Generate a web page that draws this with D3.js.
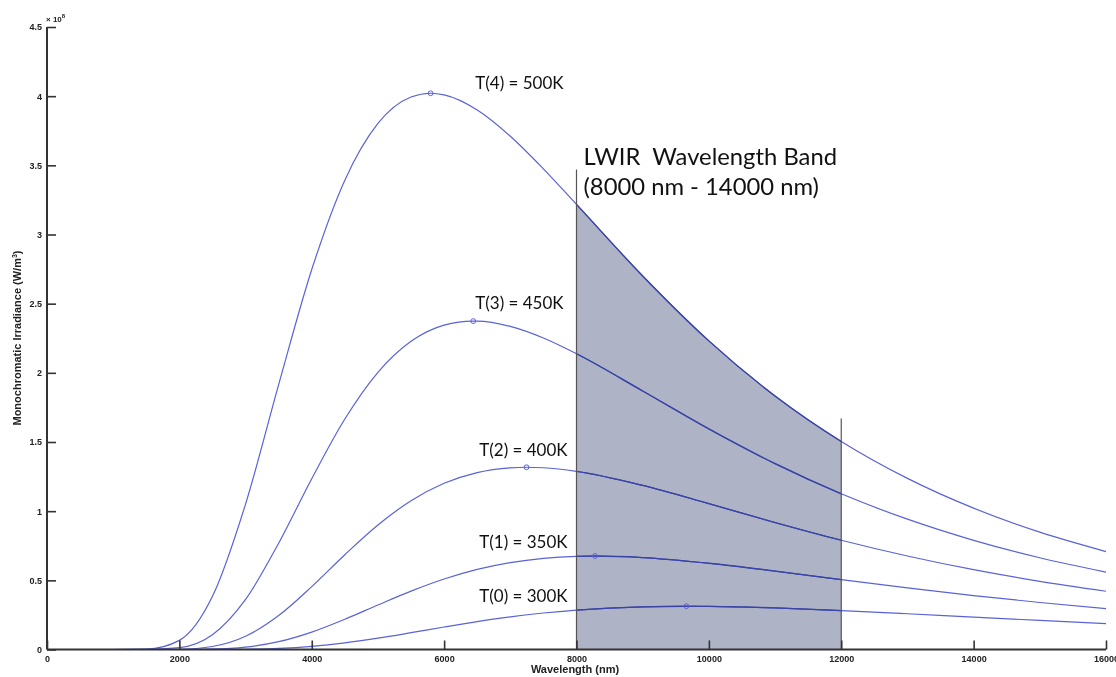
<!DOCTYPE html>
<html>
<head>
<meta charset="utf-8">
<script src="https://cdn.jsdelivr.net/npm/d3@7"></script>
<style>
  html, body { margin: 0; padding: 0; background: #ffffff; }
  svg { display: block; }
  .tick-label { font-family: "Liberation Sans", Arial, sans-serif; font-weight: bold; font-size: 9px; fill: #222; }
  .axis-title { font-family: "Liberation Sans", Arial, sans-serif; font-weight: bold; font-size: 11px; fill: #222; }
  .curve-label { font-family: Lato, "Open Sans", sans-serif; font-size: 17px; fill: #111; }
  .band-label { font-family: Lato, "Open Sans", sans-serif; font-size: 23.8px; fill: #111; white-space: pre; }
</style>
</head>
<body>
<svg id="chart" width="1116" height="677"></svg>
<script>
// Wavelength samples (nm)
const wavelengths = [0, 1000, 1500, 2000, 2500, 3000, 3500, 4000, 4500, 5000, 5500, 6000, 6500, 7000, 7500, 8000, 9000, 10000, 11000, 12000, 13000, 14000, 15000, 16000];

// Monochromatic irradiance, in units of 1e8 W/m^3
const irr300 = [0, 0, 0, 0, 0.0002, 0.0018, 0.008, 0.0227, 0.0477, 0.0818, 0.1214, 0.1626, 0.2015, 0.2358, 0.2638, 0.2852, 0.3088, 0.3117, 0.3007, 0.2815, 0.2583, 0.2339, 0.2100, 0.1875];
const irr350 = [0, 0, 0, 0.0001, 0.0028, 0.0172, 0.0565, 0.1258, 0.2187, 0.3219, 0.4221, 0.5096, 0.5789, 0.6285, 0.6594, 0.6738, 0.6647, 0.6236, 0.5669, 0.5055, 0.4455, 0.3898, 0.3399, 0.2960];
const irr400 = [0, 0, 0, 0.0018, 0.0216, 0.0956, 0.2452, 0.4544, 0.6853, 0.9000, 1.0755, 1.2017, 1.2792, 1.3136, 1.3137, 1.2875, 1.1862, 1.0543, 0.9179, 0.7900, 0.6760, 0.5770, 0.4927, 0.4213];
const irr450 = [0, 0, 0.0003, 0.0133, 0.1070, 0.3620, 0.7683, 1.2348, 1.6661, 2.0037, 2.2279, 2.3452, 2.3739, 2.3357, 2.2516, 2.1379, 1.8689, 1.5945, 1.3434, 1.1256, 0.9420, 0.7893, 0.6634, 0.5596];
const irr500 = [0, 0, 0.0023, 0.0660, 0.3843, 1.0513, 1.9152, 2.7466, 3.3930, 3.8032, 3.9938, 4.0090, 3.9000, 3.7105, 3.4748, 3.2175, 2.7003, 2.2311, 1.8322, 1.5037, 1.2369, 1.0216, 0.8481, 0.7080];

// Peak of each curve: [wavelength nm, irradiance]
const peak300 = [9660, 0.3127];
const peak350 = [8280, 0.6758];
const peak400 = [7245, 1.3176];
const peak450 = [6440, 2.3740];
const peak500 = [5796, 4.0210];

const seriesNames = ["T(0) = 300K", "T(1) = 350K", "T(2) = 400K", "T(3) = 450K", "T(4) = 500K"];
const seriesValues = [irr300, irr350, irr400, irr450, irr500];
const seriesPeaks = [peak300, peak350, peak400, peak450, peak500];

// Label anchor for each curve: [wavelength nm, irradiance]
const labelAnchors = [[6530, 0.343], [6530, 0.734], [6530, 1.40], [6470, 2.46], [6470, 4.052]];

// LWIR band: shaded between these wavelengths, edge line heights in irradiance units
const bandStart = 8000, bandEnd = 12000;
const bandEdgeTops = [3.47, 1.67];
const bandText = ["LWIR  Wavelength Band", "(8000 nm - 14000 nm)"];

const xTicks = [0, 2000, 4000, 6000, 8000, 10000, 12000, 14000, 16000];
const yTicks = [0, 0.5, 1, 1.5, 2, 2.5, 3, 3.5, 4, 4.5];

const svg = d3.select("#chart");
const x = d3.scaleLinear().domain([0, 16000]).range([47, 1106]);
const y = d3.scaleLinear().domain([0, 4.5]).range([649.5, 27]);

const lineColor = "#5a62d8";

const seriesData = seriesValues.map((vals, i) => {
  const pts = wavelengths.map((w, j) => [w, vals[j]]);
  pts.push(seriesPeaks[i]);
  pts.sort((a, b) => a[0] - b[0]);
  return pts;
});

const line = d3.line().x(d => x(d[0])).y(d => y(d[1])).curve(d3.curveMonotoneX);
const area = d3.area().x(d => x(d[0])).y0(y(0)).y1(d => y(d[1])).curve(d3.curveMonotoneX);

// clip to the LWIR band
svg.append("defs").append("clipPath").attr("id", "band-clip")
  .append("rect")
  .attr("x", x(bandStart)).attr("y", 0)
  .attr("width", x(bandEnd) - x(bandStart)).attr("height", y(0));

// curves
svg.append("g").selectAll("path.curve")
  .data(seriesData)
  .join("path")
  .attr("class", "curve")
  .attr("d", line)
  .attr("fill", "none")
  .attr("stroke", lineColor)
  .attr("stroke-width", 1.2);

// shaded band under the hottest curve
svg.append("path")
  .datum(seriesData[4])
  .attr("d", area)
  .attr("clip-path", "url(#band-clip)")
  .attr("fill", "#aeb4c6")
  .style("mix-blend-mode", "multiply");

// stronger curve stroke inside the band
svg.append("g").attr("clip-path", "url(#band-clip)").selectAll("path")
  .data(seriesData)
  .join("path")
  .attr("d", line)
  .attr("fill", "none")
  .attr("stroke", "#3a44a8")
  .attr("stroke-width", 1.3);

// band edge lines
svg.append("g").selectAll("line.edge")
  .data([bandStart, bandEnd])
  .join("line")
  .attr("x1", d => x(d)).attr("x2", d => x(d))
  .attr("y1", y(0))
  .attr("y2", (d, i) => y(bandEdgeTops[i]))
  .attr("stroke", "#555")
  .attr("stroke-width", 1.2);

// peak markers
svg.append("g").selectAll("circle")
  .data(seriesPeaks)
  .join("circle")
  .attr("cx", d => x(d[0]))
  .attr("cy", d => y(d[1]))
  .attr("r", 2.4)
  .attr("fill", "none")
  .attr("stroke", lineColor)
  .attr("stroke-width", 1);

// curve labels
svg.append("g").selectAll("text")
  .data(seriesNames)
  .join("text")
  .attr("class", "curve-label")
  .attr("x", (d, i) => x(labelAnchors[i][0]))
  .attr("y", (d, i) => y(labelAnchors[i][1]))
  .text(d => d);

// band caption
svg.append("g").selectAll("text")
  .data(bandText)
  .join("text")
  .attr("class", "band-label")
  .attr("xml:space", "preserve")
  .attr("x", x(bandStart) + 7)
  .attr("y", (d, i) => 165 + i * 30)
  .text(d => d);

// axes
const axisG = svg.append("g");
axisG.append("line")
  .attr("x1", x(0)).attr("x2", x(16000))
  .attr("y1", y(0)).attr("y2", y(0))
  .attr("stroke", "#333").attr("stroke-width", 2);
axisG.append("line")
  .attr("x1", x(0)).attr("x2", x(0))
  .attr("y1", y(0)).attr("y2", y(4.5))
  .attr("stroke", "#333").attr("stroke-width", 2);

const xAxis = d3.axisBottom(x).tickValues(xTicks).tickSizeInner(-9).tickSizeOuter(0).tickPadding(6)
  .tickFormat(d3.format("d"));
const gx = svg.append("g").attr("transform", `translate(0,${y(0)})`).call(xAxis);
gx.select(".domain").remove();
gx.selectAll(".tick line").attr("stroke", "#333").attr("stroke-width", 1.6);
gx.selectAll(".tick text").attr("class", "tick-label").attr("fill", null);

const yAxis = d3.axisLeft(y).tickValues(yTicks).tickSizeInner(-9).tickSizeOuter(0).tickPadding(5)
  .tickFormat(d3.format("~g"));
const gy = svg.append("g").attr("transform", `translate(${x(0)},0)`).call(yAxis);
gy.select(".domain").remove();
gy.selectAll(".tick line").attr("stroke", "#333").attr("stroke-width", 1.6);
gy.selectAll(".tick text").attr("class", "tick-label").attr("fill", null);

// exponent
const expo = svg.append("text").attr("class", "tick-label")
  .attr("x", x(0) - 1).attr("y", 22)
  .style("font-size", "8px");
expo.append("tspan").text("× 10");
expo.append("tspan").attr("dy", -4).style("font-size", "6px").text("8");

// axis titles
svg.append("text").attr("class", "axis-title")
  .attr("x", 575).attr("y", 673)
  .attr("text-anchor", "middle")
  .text("Wavelength (nm)");

const yt = svg.append("text").attr("class", "axis-title")
  .attr("transform", `translate(21,338) rotate(-90)`)
  .attr("text-anchor", "middle");
yt.append("tspan").text("Monochromatic Irradiance (W/m");
yt.append("tspan").attr("dy", -4).style("font-size", "7px").text("3");
yt.append("tspan").attr("dy", 4).text(")");
</script>
</body>
</html>
